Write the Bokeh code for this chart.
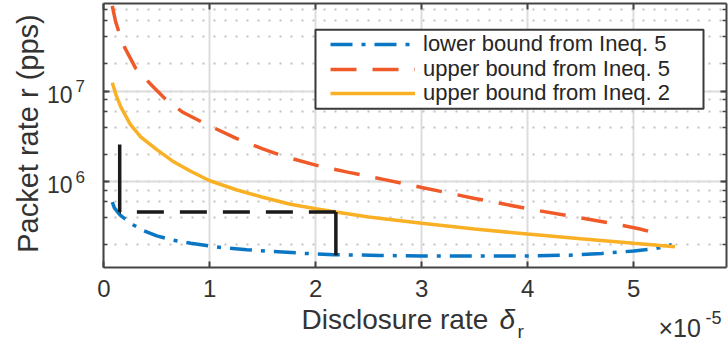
import math
from bokeh.plotting import figure
from bokeh.models import (Label, Legend, LegendItem, LinearAxis, LogAxis, FixedTicker, LogTicker,
                          CustomJSTickFormatter, Range1d, Grid, BoxAnnotation, LogScale)
from bokeh.embed import file_html
from bokeh.resources import INLINE

# ---------------- data (x in units of 1e-5) ----------------
lower5_x = [0.08, 0.10, 0.13, 0.16, 0.22, 0.28, 0.38, 0.50, 0.65, 0.82, 1.00, 1.13,
            1.35, 1.60, 1.90, 2.17, 2.60, 3.00, 3.50, 4.00, 4.40, 4.70, 5.00, 5.20, 5.36]
lower5_y = [5.9e5, 5.1e5, 4.6e5, 4.2e5, 3.7e5, 3.3e5, 2.85e5, 2.5e5, 2.25e5, 2.07e5, 1.93e5, 1.85e5,
            1.76e5, 1.68e5, 1.6e5, 1.55e5, 1.52e5, 1.5e5, 1.5e5, 1.5e5, 1.53e5, 1.6e5, 1.7e5, 1.8e5, 2.0e5]

upper5_x = [0.08, 0.11, 0.14, 0.20, 0.30, 0.44, 0.60, 0.75, 0.95, 1.25, 1.50, 1.70,
            2.00, 2.30, 2.65, 3.00, 3.50, 4.00, 4.50, 4.85, 5.05, 5.25]
upper5_y = [8.8e7, 6.0e7, 4.6e7, 3.0e7, 1.8e7, 1.2e7, 7.8e6, 5.8e6, 4.4e6, 3.0e6, 2.3e6, 1.9e6,
            1.52e6, 1.27e6, 1.05e6, 8.6e5, 6.5e5, 5.0e5, 3.95e5, 3.35e5, 3.0e5, 2.6e5]

upper2_x = [0.08, 0.12, 0.16, 0.25, 0.35, 0.50, 0.65, 0.82, 1.00, 1.25, 1.50, 1.76,
            2.00, 2.19, 2.50, 3.00, 3.50, 4.00, 4.50, 5.00, 5.39]
upper2_y = [1.24e7, 8.8e6, 6.7e6, 4.3e6, 3.1e6, 2.25e6, 1.68e6, 1.3e6, 1.02e6, 8.1e5, 6.7e5, 5.6e5,
            5.0e5, 4.6e5, 4.05e5, 3.45e5, 2.98e5, 2.62e5, 2.32e5, 2.07e5, 1.9e5]

guide_left_x = [0.15, 0.15]
guide_left_y = [2.57e6, 4.6e5]
guide_mid_x = [2.19, 0.15]
guide_mid_y = [4.6e5, 4.6e5]
guide_right_x = [2.19, 2.19]
guide_right_y = [4.6e5, 1.52e5]

x_lim = [0.0, 5.88]
y_lim = [1.117e5, 9.35e7]
x_ticks = [0, 1, 2, 3, 4, 5]
legend_labels = ["lower bound from Ineq. 5", "upper bound from Ineq. 5", "upper bound from Ineq. 2"]
y_tick_vals = [1e6, 1e7]
y_tick_base = ["10", "10"]
y_tick_exp = ["6", "7"]
x_label_main = "Disclosure rate"
x_label_sym = "\u03b4"
x_label_sub = "r"
y_label = "Packet rate r (pps)"
mult_base = "\u00d710"
mult_exp = "-5"

# ---------------- layout / styles ----------------
W, H = 728, 347
AX_L, AX_R, AX_T, AX_B = 103.3, 726.4, 3.0, 267.0   # plot box in canvas pixels
FONT = "Liberation Sans"
TXT = "#333333"
AX = "#444444"
BLUE = "#0b77c4"
RED = "#f05a28"
YEL = "#f9b024"
BLK = "#1a1a1a"

kx = (AX_R - AX_L) / (x_lim[1] - x_lim[0])
x_start = x_lim[0] - AX_L / kx
x_end = x_lim[1] + (W - AX_R) / kx
ly0, ly1 = math.log10(y_lim[0]), math.log10(y_lim[1])
ky = (AX_B - AX_T) / (ly1 - ly0)
y_start = 10 ** (ly0 - (H - AX_B) / ky)
y_end = 10 ** (ly1 + AX_T / ky)

p = figure(width=W, height=H, x_range=Range1d(x_start, x_end), y_range=Range1d(y_start, y_end),
           y_axis_type="log", x_axis_location=None, y_axis_location=None,
           min_border=0, output_backend="svg", toolbar_location=None)
p.y_scale = LogScale()
p.outline_line_color = None
p.background_fill_color = "white"
p.border_fill_color = "white"
p.center = [c for c in p.center if not isinstance(c, Grid)]


def blank():
    return CustomJSTickFormatter(code="return ''")


common = dict(axis_line_width=2, axis_line_color=AX, major_tick_line_width=2,
              major_tick_line_color=AX, major_tick_in=6, major_tick_out=0)

xb = LinearAxis(fixed_location=y_lim[0], bounds=(x_lim[0], x_lim[1]), ticker=FixedTicker(ticks=x_ticks),
                minor_tick_line_color=None, major_label_text_font=FONT,
                major_label_text_font_size="24px", major_label_text_color=TXT,
                major_label_standoff=12, **common)
p.add_layout(xb, "below")
xt = LinearAxis(fixed_location=y_lim[1], bounds=(x_lim[0], x_lim[1]), ticker=FixedTicker(ticks=x_ticks),
                formatter=blank(), major_label_text_font_size="0px", minor_tick_line_color=None, **common)
p.add_layout(xt, "above")
for side, loc in (("left", x_lim[0]), ("right", x_lim[1])):
    ya = LogAxis(fixed_location=loc, bounds=(y_lim[0], y_lim[1]), ticker=LogTicker(),
                 formatter=blank(), major_label_text_font_size="0px",
                 minor_tick_in=4, minor_tick_out=0, minor_tick_line_width=1.5,
                 minor_tick_line_color=AX, **common)
    p.add_layout(ya, side)

# grids limited to the plot box
gx = Grid(dimension=0, ticker=FixedTicker(ticks=x_ticks), bounds=(x_lim[0], x_lim[1]),
          grid_line_color="#dcdcdc", grid_line_width=2)
gy = Grid(dimension=1, ticker=LogTicker(), bounds=(y_lim[0], y_lim[1]),
          grid_line_color="#dcdcdc", grid_line_width=2,
          minor_grid_line_color="#c2c2c2", minor_grid_line_width=2, minor_grid_line_dash="2 9")
if "cross_bounds" in Grid.properties():
    gx.cross_bounds = (y_lim[0], y_lim[1])
    gy.cross_bounds = (x_lim[0], x_lim[1])
    p.add_layout(gx)
    p.add_layout(gy)
else:
    gxs = [t for t in x_ticks if x_lim[0] < t < x_lim[1]]
    p.segment(x0=gxs, x1=gxs, y0=[y_lim[0]] * len(gxs), y1=[y_lim[1]] * len(gxs),
              line_color="#dcdcdc", line_width=2, level="underlay")
    majors = [10.0 ** e for e in range(5, 9) if y_lim[0] < 10.0 ** e < y_lim[1]]
    minors = [m * 10.0 ** e for e in range(5, 8) for m in range(2, 10) if y_lim[0] < m * 10.0 ** e < y_lim[1]]
    p.segment(x0=[x_lim[0]] * len(majors), x1=[x_lim[1]] * len(majors), y0=majors, y1=majors,
              line_color="#dcdcdc", line_width=2, level="underlay")
    p.segment(x0=[x_lim[0]] * len(minors), x1=[x_lim[1]] * len(minors), y0=minors, y1=minors,
              line_color="#c2c2c2", line_width=2, line_dash="2 9", level="underlay")

# curves
r_low = p.line(lower5_x, lower5_y, line_color=BLUE, line_width=3.5, line_dash="22 9 4 9")
r_up5 = p.line(upper5_x, upper5_y, line_color=RED, line_width=3.5, line_dash="26 16")
r_up2 = p.line(upper2_x, upper2_y, line_color=YEL, line_width=3.5)

p.line(guide_left_x, guide_left_y, line_color=BLK, line_width=3.5)
p.line(guide_mid_x, guide_mid_y, line_color=BLK, line_width=3.5, line_dash="27 16")
p.line(guide_right_x, guide_right_y, line_color=BLK, line_width=3.5)

# legend box + one legend row per entry
p.add_layout(BoxAnnotation(left=315, right=703, top=H - 29.3, bottom=H - 108.3,
                           left_units="screen", right_units="screen",
                           top_units="screen", bottom_units="screen",
                           fill_color="white", fill_alpha=1.0,
                           line_color="#3a3a3a", line_width=2, line_alpha=1.0))
LEG_FS = 22
ROW_H = LEG_FS * 1.167
for lbl, rend, cy in zip(legend_labels, [r_low, r_up5, r_up2], [43.9, 68.7, 93.5]):
    p.add_layout(Legend(items=[LegendItem(label=lbl, renderers=[rend])],
                        location=(330, H - cy - ROW_H / 2), orientation="vertical",
                        border_line_color=None, background_fill_alpha=0.0,
                        padding=0, spacing=0, margin=0, glyph_width=85, glyph_height=20,
                        label_standoff=8, label_height=20,
                        label_text_font=FONT, label_text_font_size=f"{LEG_FS}px",
                        label_text_color="#262626"))


def lab(text, cx, cy, size, align="left", angle=0.0, style="normal"):
    # cy is the vertical centre (text_baseline="middle") in canvas pixels
    return Label(x=cx, y=H - cy, x_units="screen", y_units="screen", text=text,
                 text_align=align, text_baseline="middle", angle=angle,
                 text_font=FONT, text_font_size=size, text_font_style=style, text_color=TXT)


# y tick labels (10^n)
for v, b, e in zip(y_tick_vals, y_tick_base, y_tick_exp):
    p.add_layout(Label(x=72, y=v, x_units="screen", y_units="data", text=b,
                       text_align="right", text_baseline="middle", y_offset=-3,
                       text_font=FONT, text_font_size="23px", text_color=TXT))
    p.add_layout(Label(x=75, y=v, x_units="screen", y_units="data", text=e,
                       text_align="left", text_baseline="middle", y_offset=5,
                       text_font=FONT, text_font_size="17px", text_color=TXT))

# axis labels
p.add_layout(lab(y_label, 27, 133, "29px", align="center", angle=math.pi / 2))
p.add_layout(lab(x_label_main, 301, 318.5, "28px"))
p.add_layout(lab(x_label_sym, 499, 318.5, "28px", style="italic"))
p.add_layout(lab(x_label_sub, 517, 331, "19px"))
p.add_layout(lab(mult_base, 658, 327.5, "25px"))
p.add_layout(lab(mult_exp, 705, 317, "18px"))

open("out.html", "w").write(file_html(p, INLINE))
